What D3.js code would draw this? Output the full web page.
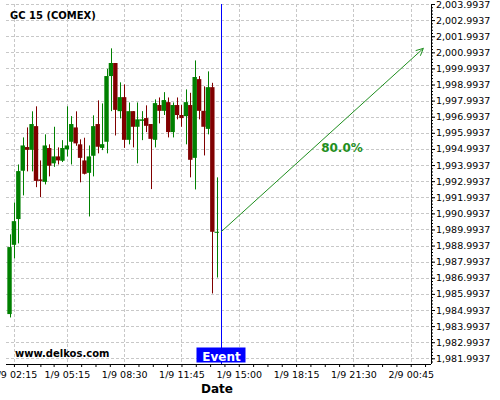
<!DOCTYPE html>
<html>
<head>
<meta charset="utf-8">
<script src="https://cdn.jsdelivr.net/npm/d3@7"></script>
<style>
  body { margin: 0; background: #fff; }
  svg { display: block; font-family: "DejaVu Sans", sans-serif; }
</style>
</head>
<body>
<svg id="chart" width="500" height="400"></svg>
<script>
// candle times: 15 minute bars from 1/9 02:00 to 1/9 13:45
var startTime = new Date(2023, 8, 1, 2, 0)
var candleTimes = d3.range(48).map(function (i) { return d3.timeMinute.offset(startTime, i * 15) })

var opens  = [1984.74, 1989.04, 1990.64, 1993.64, 1995.11, 1994.94, 1996.41, 1993.10, 1992.95, 1995.05,
              1994.10, 1994.53, 1994.26, 1994.97, 1995.44, 1996.33, 1995.28, 1994.28, 1993.51, 1994.57,
              1996.54, 1995.06, 1995.44, 1999.52, 2000.33, 1997.34, 1998.21, 1995.56, 1997.34, 1996.37,
              1996.74, 1996.91, 1996.54, 1995.56, 1997.72, 1997.36, 1997.90, 1996.04, 1997.72, 1997.10,
              1997.03, 1997.72, 1994.44, 1999.33, 1997.36, 1996.24, 1998.83, 1989.84]
var highs  = [1989.69, 1991.67, 1994.03, 1995.71, 1996.33, 1997.33, 1997.64, 1994.28, 1995.90, 1995.28,
              1996.37, 1995.09, 1995.54, 1997.64, 1997.03, 1997.33, 1995.59, 1995.69, 1995.21, 1997.08,
              1998.01, 1997.82, 1999.97, 2001.24, 2000.33, 1999.13, 1999.00, 1997.88, 1997.34, 1997.88,
              1997.34, 1997.70, 1996.54, 1998.07, 1998.19, 1998.52, 1998.19, 1997.88, 1998.19, 1997.72,
              1998.69, 1998.48, 2000.49, 1999.52, 1998.88, 1999.81, 1999.10, 1993.23]
var lows   = [1984.53, 1988.19, 1989.13, 1992.11, 1993.60, 1993.60, 1992.62, 1992.00, 1992.79, 1993.29,
              1993.88, 1994.03, 1994.18, 1994.53, 1994.03, 1995.19, 1992.92, 1993.41, 1990.80, 1993.29,
              1994.72, 1994.92, 1994.72, 1997.34, 1995.83, 1996.89, 1995.06, 1995.28, 1995.09, 1994.10,
              1995.54, 1996.04, 1992.50, 1995.09, 1996.58, 1997.10, 1995.71, 1995.71, 1996.83, 1996.37,
              1995.28, 1993.23, 1992.48, 1996.83, 1994.59, 1995.90, 1986.02, 1987.01]
var closes = [1988.90, 1990.51, 1993.62, 1995.21, 1994.94, 1996.54, 1993.01, 1993.01, 1995.21, 1993.95,
              1994.53, 1994.28, 1995.05, 1995.21, 1996.54, 1995.34, 1994.44, 1993.45, 1994.53, 1996.41,
              1995.13, 1995.29, 1999.52, 2000.33, 1997.42, 1998.21, 1995.56, 1997.34, 1996.37, 1996.83,
              1996.83, 1996.43, 1995.62, 1997.84, 1997.36, 1998.03, 1996.04, 1997.72, 1997.10, 1996.91,
              1997.90, 1994.32, 1999.46, 1997.36, 1996.37, 1998.83, 1989.85, 1989.85]

var yTicks = d3.range(23).map(function (k) { return 1981.9937 + k })
// tick labels as printed on the chart
var xTicks = [
    new Date(2023, 8, 1, 2, 15), new Date(2023, 8, 1, 5, 15), new Date(2023, 8, 1, 8, 30),
    new Date(2023, 8, 1, 11, 45), new Date(2023, 8, 1, 15, 0), new Date(2023, 8, 1, 18, 15),
    new Date(2023, 8, 1, 21, 30), new Date(2023, 8, 2, 0, 45)
]

var eventTime = new Date(2023, 8, 1, 14, 0)
var arrowFrom = { time: eventTime, price: 1989.85 }
var arrowTo = { time: new Date(2023, 8, 2, 1, 28), price: 2001.24 }
var arrowLabel = "80.0%"
var title = "GC 15 (COMEX)"

var svg = d3.select("#chart")
var margin = { top: 4, right: 69, bottom: 36, left: 6 },
    width = 500 - margin.left - margin.right,
    height = 400 - margin.top - margin.bottom

var x = d3.scaleTime()
    .domain([new Date(2023, 8, 1, 1, 48), new Date(2023, 8, 2, 1, 54)])
    .range([margin.left, margin.left + width])
var y = d3.scaleLinear()
    .domain([1981.64, 2003.9937])
    .range([margin.top + height, margin.top])

var gridColor = "#c8c8c8"

// grid lines
svg.append("g").selectAll("line").data(yTicks).enter().append("line")
    .attr("x1", margin.left).attr("x2", margin.left + width)
    .attr("y1", function (d) { return Math.round(y(d)) + 0.5 })
    .attr("y2", function (d) { return Math.round(y(d)) + 0.5 })
    .attr("stroke", gridColor).attr("stroke-dasharray", "3,2")
svg.append("g").selectAll("line").data(xTicks).enter().append("line")
    .attr("x1", function (d) { return Math.round(x(d)) + 0.5 })
    .attr("x2", function (d) { return Math.round(x(d)) + 0.5 })
    .attr("y1", margin.top).attr("y2", margin.top + height)
    .attr("stroke", gridColor).attr("stroke-dasharray", "3,2")

// candles
var candles = candleTimes.map(function (t, i) {
    return { time: t, open: opens[i], high: highs[i], low: lows[i], close: closes[i] }
})
var bw = x(d3.timeMinute.offset(startTime, 15)) - x(startTime)
var cg = svg.append("g").selectAll("g").data(candles).enter().append("g")
cg.append("line")
    .attr("x1", function (d) { return Math.round(x(d.time)) + 0.5 })
    .attr("x2", function (d) { return Math.round(x(d.time)) + 0.5 })
    .attr("y1", function (d) { return y(d.high) })
    .attr("y2", function (d) { return y(d.low) })
    .attr("stroke", function (d) { return d.close >= d.open ? "#008000" : "#800000" })
cg.append("rect")
    .attr("x", function (d) { return x(d.time) - bw / 2 })
    .attr("width", bw)
    .attr("y", function (d) { return y(Math.max(d.open, d.close)) })
    .attr("height", function (d) { return Math.max(1, Math.abs(y(d.open) - y(d.close))) })
    .attr("fill", function (d) { return d.close >= d.open ? "#008000" : "#800000" })

// axes
var yAxis = svg.append("g")
    .attr("transform", "translate(" + (margin.left + width) + ",0)")
    .call(d3.axisRight(y).tickValues(yTicks).tickFormat(d3.format(",.4f")).tickSize(4).tickPadding(1))
yAxis.select(".domain").attr("d", "M0.5," + margin.top + "V" + (margin.top + height))
yAxis.selectAll("text").attr("font-size", "9.5px").attr("font-family", "DejaVu Sans").attr("fill", "#000")
svg.append("g")
    .attr("transform", "translate(" + (margin.left + width) + ",0)")
    .call(d3.axisRight(y).tickValues(d3.range(1981.7937, 2004.0, 0.2)).tickFormat("").tickSize(2))
    .select(".domain").remove()

var xAxis = svg.append("g")
    .attr("transform", "translate(0," + (margin.top + height) + ")")
    .call(d3.axisBottom(x).tickValues(xTicks).tickFormat(d3.timeFormat("%-d/%-m %H:%M")).tickSize(3).tickPadding(4))
xAxis.select(".domain").attr("d", "M" + margin.left + ",0.5H" + (margin.left + width))
xAxis.selectAll("text").attr("font-size", "9.5px").attr("font-family", "DejaVu Sans").attr("fill", "#000")

// minor ticks: four steps inside each labelled interval
var minorX = []
for (var i = 0; i < xTicks.length - 1; i++) {
    var a = +xTicks[i], b = +xTicks[i + 1]
    for (var k = 1; k < 4; k++) minorX.push(new Date(a + (b - a) * k / 4))
}
var step = (+xTicks[1] - +xTicks[0]) / 4
minorX.push(new Date(+xTicks[0] - step), new Date(+xTicks[xTicks.length - 1] + (+xTicks[7] - +xTicks[6]) / 4))
minorX = minorX.filter(function (d) { return x(d) >= margin.left && x(d) <= margin.left + width })
svg.append("g")
    .attr("transform", "translate(0," + (margin.top + height) + ")")
    .call(d3.axisBottom(x).tickValues(minorX).tickFormat("").tickSize(3))
    .select(".domain").remove()

svg.append("text")
    .attr("x", 217).attr("y", 393)
    .attr("text-anchor", "middle")
    .attr("font-size", "12px").attr("font-weight", "bold")
    .text("Date")

// event marker
var ex = Math.round(x(eventTime)) + 0.5
svg.append("line")
    .attr("x1", ex).attr("x2", ex)
    .attr("y1", margin.top).attr("y2", margin.top + height)
    .attr("stroke", "#0000ff")
svg.append("rect")
    .attr("x", ex - 25).attr("y", margin.top + height - 16.5)
    .attr("width", 49).attr("height", 15)
    .attr("fill", "#0000ff")
svg.append("text")
    .attr("x", ex).attr("y", margin.top + height - 3)
    .attr("text-anchor", "middle")
    .attr("font-size", "12px").attr("font-weight", "bold").attr("fill", "#fff")
    .text("Event")

// arrow
var arrowColor = "#1f8f1f"
var x1 = x(arrowFrom.time), y1 = y(arrowFrom.price),
    x2 = x(arrowTo.time), y2 = y(arrowTo.price)
svg.append("line")
    .attr("x1", x1).attr("y1", y1).attr("x2", x2).attr("y2", y2)
    .attr("stroke", arrowColor)
var ang = Math.atan2(y2 - y1, x2 - x1)
var head = [ang + Math.PI - 0.45, ang + Math.PI + 0.45].map(function (a) {
    return [x2 + 8 * Math.cos(a), y2 + 8 * Math.sin(a)]
})
svg.append("path")
    .attr("d", "M" + head[0] + "L" + x2 + "," + y2 + "L" + head[1])
    .attr("fill", "none").attr("stroke", arrowColor)
svg.append("text")
    .attr("x", 342).attr("y", 151.5)
    .attr("text-anchor", "middle")
    .attr("font-size", "12px").attr("font-weight", "bold").attr("fill", arrowColor)
    .text(arrowLabel)

// labels
svg.append("text")
    .attr("x", 10).attr("y", 19)
    .attr("font-size", "10px").attr("font-weight", "bold")
    .text(title)
svg.append("text")
    .attr("x", 15).attr("y", 357)
    .attr("font-size", "10px").attr("font-weight", "bold")
    .text("www.delkos.com")
</script>
</body>
</html>
